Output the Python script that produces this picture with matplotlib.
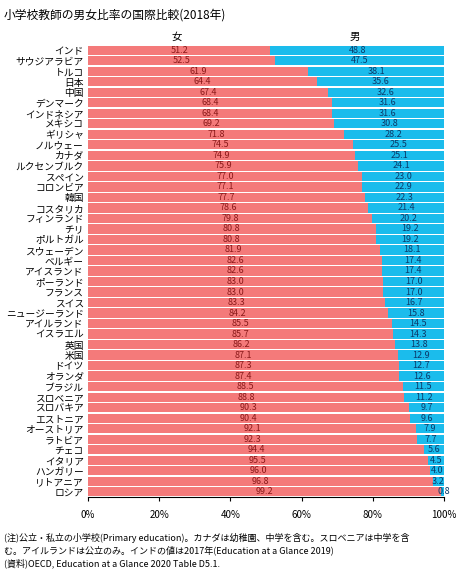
import numpy as np
import matplotlib.pyplot as plt

plt.rcParams['font.family'] = ['Noto Sans CJK JP', 'DejaVu Sans']

countries = ["インド", "サウジアラビア", "トルコ", "日本", "中国", "デンマーク", "インドネシア", "メキシコ",
             "ギリシャ", "ノルウェー", "カナダ", "ルクセンブルク", "スペイン", "コロンビア", "韓国", "コスタリカ",
             "フィンランド", "チリ", "ポルトガル", "スウェーデン", "ベルギー", "アイスランド", "ポーランド", "フランス",
             "スイス", "ニュージーランド", "アイルランド", "イスラエル", "英国", "米国", "ドイツ", "オランダ",
             "ブラジル", "スロベニア", "スロバキア", "エストニア", "オーストリア", "ラトビア", "チェコ", "イタリア",
             "ハンガリー", "リトアニア", "ロシア"]
female = [51.2, 52.5, 61.9, 64.4, 67.4, 68.4, 68.4, 69.2, 71.8, 74.5, 74.9, 75.9, 77.0, 77.1, 77.7, 78.6,
          79.8, 80.8, 80.8, 81.9, 82.6, 82.6, 83.0, 83.0, 83.3, 84.2, 85.5, 85.7, 86.2, 87.1, 87.3, 87.4,
          88.5, 88.8, 90.3, 90.4, 92.1, 92.3, 94.4, 95.5, 96.0, 96.8, 99.2]
male = [48.8, 47.5, 38.1, 35.6, 32.6, 31.6, 31.6, 30.8, 28.2, 25.5, 25.1, 24.1, 23.0, 22.9, 22.3, 21.4,
        20.2, 19.2, 19.2, 18.1, 17.4, 17.4, 17.0, 17.0, 16.7, 15.8, 14.5, 14.3, 13.8, 12.9, 12.7, 12.6,
        11.5, 11.2, 9.7, 9.6, 7.9, 7.7, 5.6, 4.5, 4.0, 3.2, 0.8]

fig = plt.figure(figsize=(4.74, 5.82), dpi=100)
ax = fig.add_axes([88 / 474, 1 - 497 / 582, 356 / 474, 452 / 582])
y = np.arange(len(countries))
ax.barh(y, female, height=0.88, color="#F47A7A")
ax.barh(y, male, left=female, height=0.88, color="#1BBCEC")
for i in y:
    ax.text(female[i] / 2, i, f"{female[i]:.1f}", ha="center", va="center", fontsize=6.5, color="#8B1A1A")
    ax.text(female[i] + male[i] / 2 if male[i] > 2 else 100, i, f"{male[i]:.1f}",
            ha="center", va="center", fontsize=6.5, color="#0B3A6A")
ax.set_ylim(len(countries) - 0.5, -0.5)
ax.set_xlim(0, 100)
ax.set_yticks(y)
ax.set_yticklabels(countries, fontsize=7)
ax.set_xticks([0, 20, 40, 60, 80, 100])
ax.set_xticklabels(["0%", "20%", "40%", "60%", "80%", "100%"], fontsize=7)
ax.tick_params(length=0, axis="y", pad=3)
ax.tick_params(axis="x", length=3, pad=6)
for s in ["top", "right", "left"]:
    ax.spines[s].set_visible(False)
ax.text(25, -1.3, "女", ha="center", va="center", fontsize=7.5)
ax.text(75, -1.3, "男", ha="center", va="center", fontsize=7.5)

fig.text(0.008, 0.985, "小学校教師の男女比率の国際比較(2018年)", fontsize=8.5, va="top")
fig.text(0.008, 0.085, "(注)公立・私立の小学校(Primary education)。カナダは幼稚園、中学を含む。スロベニアは中学を含\n"
         "む。アイルランドは公立のみ。インドの値は2017年(Education at a Glance 2019)\n"
         "(資料)OECD, Education at a Glance 2020 Table D5.1.", fontsize=6.5, va="top", linespacing=1.4)
fig.savefig("out.png", dpi=100)
